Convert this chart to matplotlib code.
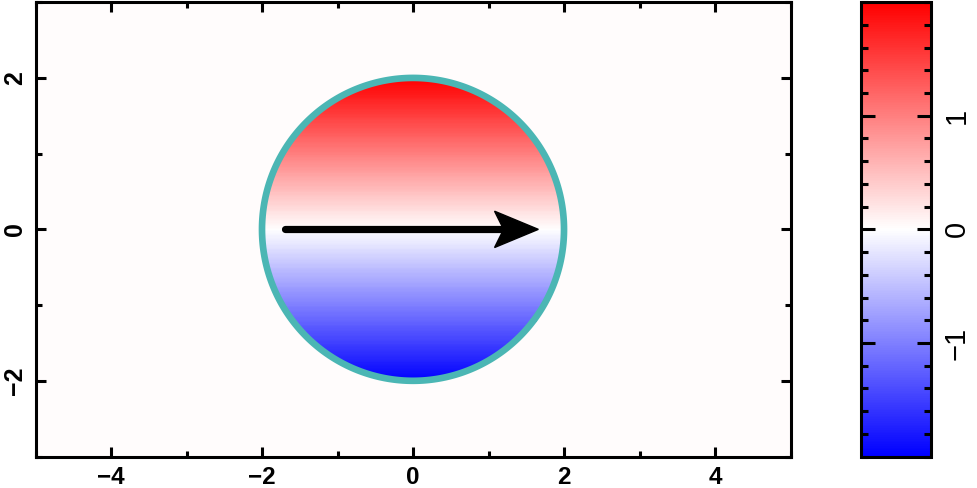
import numpy as np
import matplotlib
matplotlib.use("Agg")
import matplotlib.pyplot as plt
from matplotlib.colors import LinearSegmentedColormap
from matplotlib.patches import Polygon
from matplotlib.ticker import MultipleLocator

# ---- data ----
x_range = [-5, 5]
y_range = [-3, 3]
radius = 2.0
background_value = 0.03
arrow_start = [-1.70, 0.0]
arrow_end = [1.66, 0.0]
x_ticks = [-4, -2, 0, 2, 4]
x_labels = ['−4', '−2', '0', '2', '4']
y_ticks = [-2, 0, 2]
y_labels = ['−2', '0', '2']
cbar_ticks = [-1, 0, 1]
cbar_labels = ['−1', '0', '1']
c_range = [-2.0, 2.0]

plt.rcParams['font.family'] = ['Liberation Sans', 'DejaVu Sans']

fig = plt.figure(figsize=(9.78, 4.88), dpi=100)
ax = fig.add_axes([0.0363, 0.0645, 0.772, 0.931])
cax = fig.add_axes([0.8805, 0.0645, 0.0716, 0.931])

xs = np.linspace(x_range[0], x_range[1], 601)
ys = np.linspace(y_range[0], y_range[1], 361)
X, Y = np.meshgrid(xs, ys)
R = np.hypot(X, Y)
Z = np.where(R <= radius, Y, background_value)

cmap = LinearSegmentedColormap.from_list('bwr_lin', [(0, 0, 1), (1, 1, 1), (1, 0, 0)], N=256)
im = ax.imshow(Z, extent=[x_range[0], x_range[1], y_range[0], y_range[1]], origin='lower',
               cmap=cmap, vmin=c_range[0], vmax=c_range[1], aspect='auto', interpolation='nearest')
ax.contour(X, Y, R, levels=[radius], colors=['#4bb6b4'], linewidths=4.8)

# arrow
ax.plot([arrow_start[0], arrow_end[0] - 0.45], [arrow_start[1], arrow_end[1]], color='black',
        lw=5.2, solid_capstyle='round', zorder=5)
L, W, N = 0.58, 0.24, 0.46
tip = arrow_end
head = Polygon([(tip[0], tip[1]), (tip[0] - L, tip[1] + W), (tip[0] - N, tip[1]),
                (tip[0] - L, tip[1] - W)], closed=True, color='black', zorder=6)
ax.add_patch(head)

ax.set_xlim(x_range)
ax.set_ylim(y_range)
ax.set_xticks(x_ticks)
ax.set_yticks(y_ticks)
ax.xaxis.set_minor_locator(MultipleLocator(1))
ax.yaxis.set_minor_locator(MultipleLocator(1))
ax.set_xticklabels(x_labels, fontsize=17.5, fontweight='bold')
ax.set_yticklabels(y_labels, rotation=90, va='center', fontsize=18, fontweight='bold')
ax.tick_params(which='both', direction='in', top=True, right=True, width=2.2)
ax.tick_params(which='major', length=7.5)
ax.tick_params(which='minor', length=4.3)
ax.tick_params(axis='x', pad=7)
ax.tick_params(axis='y', pad=6)
for s in ax.spines.values():
    s.set_linewidth(2.2)

cb = fig.colorbar(im, cax=cax)
cb.set_ticks(cbar_ticks)
cb.set_ticklabels(cbar_labels)
cax.yaxis.set_minor_locator(MultipleLocator(0.2))
cax.tick_params(which='both', direction='in', left=True, right=True, width=2.2, labelsize=21, pad=8.5)
cax.tick_params(which='major', length=10)
cax.tick_params(which='minor', length=5)
for lab in cax.get_yticklabels():
    lab.set_rotation(90)
    lab.set_va('center')
cb.outline.set_linewidth(2.2)

fig.savefig('out.png', dpi=100)
